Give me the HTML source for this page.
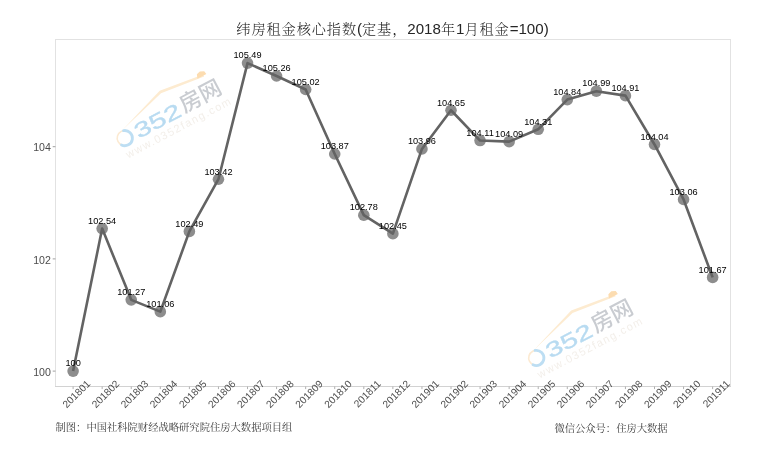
<!DOCTYPE html><html><head><meta charset="utf-8"><title>chart</title><style>
html,body{margin:0;padding:0;background:#fff}body{width:757px;height:449px;overflow:hidden}svg{display:block;will-change:transform}
text{font-family:"Liberation Sans","Noto Serif CJK SC",serif}
.c{font-size:14.2px;letter-spacing:0.9px}.ay{font-size:10.6px;fill:#4d4d4d}.ax{font-size:10.2px;fill:#4d4d4d}.lb{font-size:9.2px;fill:#000;text-anchor:middle}.ft{font-size:10.3px;fill:#3c3c3c}
</style></head><body>
<svg width="757" height="449" viewBox="0 0 757 449">
<rect width="757" height="449" fill="#fff"/>
<g transform="translate(124.5,137.6) rotate(-27.8)">
<path d="M1,-7.4 L53,-25 L99,-19.2 L99,-16.9 L53,-22.3 Z" fill="#fdebd0"/>
<path d="M92,-18.1 L93.5,-22.2 L97.5,-23.4 L101.5,-21.6 L102,-18 Z" fill="#fcdcb0"/>
<circle cx="0" cy="0.6" r="7.6" fill="none" stroke="#fcead2" stroke-width="1.6"/>
<path d="M-6.1,5.1 A7.6,7.6 0 1 0 2.4,-6.6" fill="none" stroke="#bddef3" stroke-width="2.8" stroke-linecap="round"/>
<text transform="translate(12,7.8) scale(1.43,1)" font-size="21" fill="#b8dbf1" stroke="#b8dbf1" stroke-width="0.35" style="font-family:'Liberation Sans',sans-serif">352</text>
<text x="64.5" y="6.3" font-size="22" font-weight="500" fill="#c9ccd1" style="font-family:'Liberation Sans','Noto Sans CJK SC',sans-serif">房网</text>
<text x="-6.5" y="20.3" font-size="11" fill="#f3efea" style="font-family:'Liberation Sans',sans-serif" textLength="117">www.0352fang.com</text>
</g>
<g transform="translate(536.0,357.4) rotate(-27.8)">
<path d="M1,-7.4 L53,-25 L99,-19.2 L99,-16.9 L53,-22.3 Z" fill="#fdebd0"/>
<path d="M92,-18.1 L93.5,-22.2 L97.5,-23.4 L101.5,-21.6 L102,-18 Z" fill="#fcdcb0"/>
<circle cx="0" cy="0.6" r="7.6" fill="none" stroke="#fcead2" stroke-width="1.6"/>
<path d="M-6.1,5.1 A7.6,7.6 0 1 0 2.4,-6.6" fill="none" stroke="#bddef3" stroke-width="2.8" stroke-linecap="round"/>
<text transform="translate(12,7.8) scale(1.43,1)" font-size="21" fill="#b8dbf1" stroke="#b8dbf1" stroke-width="0.35" style="font-family:'Liberation Sans',sans-serif">352</text>
<text x="64.5" y="6.3" font-size="22" font-weight="500" fill="#c9ccd1" style="font-family:'Liberation Sans','Noto Sans CJK SC',sans-serif">房网</text>
<text x="-6.5" y="20.3" font-size="11" fill="#f3efea" style="font-family:'Liberation Sans',sans-serif" textLength="117">www.0352fang.com</text>
</g>
<text x="236.3" y="34" font-size="15.1" fill="#262626" font-weight="300"><tspan class="c">纬房租金核心指数</tspan>(<tspan class="c">定基，</tspan>2018<tspan class="c">年</tspan>1<tspan class="c">月租金</tspan>=100)</text>
<rect x="55.5" y="39.5" width="675.0" height="347.0" fill="none" stroke="#e2e2e2" stroke-width="1"/>
<line x1="55.0" x2="731.0" y1="386.5" y2="386.5" stroke="#d2d2d2" stroke-width="1"/>
<line x1="52.7" x2="55.5" y1="371.10" y2="371.10" stroke="#a0a0a0" stroke-width="1"/>
<text class="ay" x="50.9" y="375.80" text-anchor="end">100</text>
<line x1="52.7" x2="55.5" y1="258.90" y2="258.90" stroke="#a0a0a0" stroke-width="1"/>
<text class="ay" x="50.9" y="263.60" text-anchor="end">102</text>
<line x1="52.7" x2="55.5" y1="146.70" y2="146.70" stroke="#a0a0a0" stroke-width="1"/>
<text class="ay" x="50.9" y="151.40" text-anchor="end">104</text>
<line x1="73.10" x2="73.10" y1="386.5" y2="389.1" stroke="#b0b0b0" stroke-width="1"/>
<text class="ax" text-anchor="end" transform="translate(90.90,384.40) rotate(-45)">201801</text>
<line x1="102.17" x2="102.17" y1="386.5" y2="389.1" stroke="#b0b0b0" stroke-width="1"/>
<text class="ax" text-anchor="end" transform="translate(119.97,384.40) rotate(-45)">201802</text>
<line x1="131.24" x2="131.24" y1="386.5" y2="389.1" stroke="#b0b0b0" stroke-width="1"/>
<text class="ax" text-anchor="end" transform="translate(149.04,384.40) rotate(-45)">201803</text>
<line x1="160.31" x2="160.31" y1="386.5" y2="389.1" stroke="#b0b0b0" stroke-width="1"/>
<text class="ax" text-anchor="end" transform="translate(178.11,384.40) rotate(-45)">201804</text>
<line x1="189.38" x2="189.38" y1="386.5" y2="389.1" stroke="#b0b0b0" stroke-width="1"/>
<text class="ax" text-anchor="end" transform="translate(207.18,384.40) rotate(-45)">201805</text>
<line x1="218.45" x2="218.45" y1="386.5" y2="389.1" stroke="#b0b0b0" stroke-width="1"/>
<text class="ax" text-anchor="end" transform="translate(236.25,384.40) rotate(-45)">201806</text>
<line x1="247.52" x2="247.52" y1="386.5" y2="389.1" stroke="#b0b0b0" stroke-width="1"/>
<text class="ax" text-anchor="end" transform="translate(265.32,384.40) rotate(-45)">201807</text>
<line x1="276.59" x2="276.59" y1="386.5" y2="389.1" stroke="#b0b0b0" stroke-width="1"/>
<text class="ax" text-anchor="end" transform="translate(294.39,384.40) rotate(-45)">201808</text>
<line x1="305.66" x2="305.66" y1="386.5" y2="389.1" stroke="#b0b0b0" stroke-width="1"/>
<text class="ax" text-anchor="end" transform="translate(323.46,384.40) rotate(-45)">201809</text>
<line x1="334.73" x2="334.73" y1="386.5" y2="389.1" stroke="#b0b0b0" stroke-width="1"/>
<text class="ax" text-anchor="end" transform="translate(352.53,384.40) rotate(-45)">201810</text>
<line x1="363.80" x2="363.80" y1="386.5" y2="389.1" stroke="#b0b0b0" stroke-width="1"/>
<text class="ax" text-anchor="end" transform="translate(381.60,384.40) rotate(-45)">201811</text>
<line x1="392.87" x2="392.87" y1="386.5" y2="389.1" stroke="#b0b0b0" stroke-width="1"/>
<text class="ax" text-anchor="end" transform="translate(410.67,384.40) rotate(-45)">201812</text>
<line x1="421.94" x2="421.94" y1="386.5" y2="389.1" stroke="#b0b0b0" stroke-width="1"/>
<text class="ax" text-anchor="end" transform="translate(439.74,384.40) rotate(-45)">201901</text>
<line x1="451.01" x2="451.01" y1="386.5" y2="389.1" stroke="#b0b0b0" stroke-width="1"/>
<text class="ax" text-anchor="end" transform="translate(468.81,384.40) rotate(-45)">201902</text>
<line x1="480.08" x2="480.08" y1="386.5" y2="389.1" stroke="#b0b0b0" stroke-width="1"/>
<text class="ax" text-anchor="end" transform="translate(497.88,384.40) rotate(-45)">201903</text>
<line x1="509.15" x2="509.15" y1="386.5" y2="389.1" stroke="#b0b0b0" stroke-width="1"/>
<text class="ax" text-anchor="end" transform="translate(526.95,384.40) rotate(-45)">201904</text>
<line x1="538.22" x2="538.22" y1="386.5" y2="389.1" stroke="#b0b0b0" stroke-width="1"/>
<text class="ax" text-anchor="end" transform="translate(556.02,384.40) rotate(-45)">201905</text>
<line x1="567.29" x2="567.29" y1="386.5" y2="389.1" stroke="#b0b0b0" stroke-width="1"/>
<text class="ax" text-anchor="end" transform="translate(585.09,384.40) rotate(-45)">201906</text>
<line x1="596.36" x2="596.36" y1="386.5" y2="389.1" stroke="#b0b0b0" stroke-width="1"/>
<text class="ax" text-anchor="end" transform="translate(614.16,384.40) rotate(-45)">201907</text>
<line x1="625.43" x2="625.43" y1="386.5" y2="389.1" stroke="#b0b0b0" stroke-width="1"/>
<text class="ax" text-anchor="end" transform="translate(643.23,384.40) rotate(-45)">201908</text>
<line x1="654.50" x2="654.50" y1="386.5" y2="389.1" stroke="#b0b0b0" stroke-width="1"/>
<text class="ax" text-anchor="end" transform="translate(672.30,384.40) rotate(-45)">201909</text>
<line x1="683.57" x2="683.57" y1="386.5" y2="389.1" stroke="#b0b0b0" stroke-width="1"/>
<text class="ax" text-anchor="end" transform="translate(701.37,384.40) rotate(-45)">201910</text>
<line x1="712.64" x2="712.64" y1="386.5" y2="389.1" stroke="#b0b0b0" stroke-width="1"/>
<text class="ax" text-anchor="end" transform="translate(730.44,384.40) rotate(-45)">201911</text>
<circle cx="73.10" cy="371.10" r="5.8" fill="#8d8d8d"/>
<circle cx="102.17" cy="228.61" r="5.8" fill="#8d8d8d"/>
<circle cx="131.24" cy="299.85" r="5.8" fill="#8d8d8d"/>
<circle cx="160.31" cy="311.63" r="5.8" fill="#8d8d8d"/>
<circle cx="189.38" cy="231.41" r="5.8" fill="#8d8d8d"/>
<circle cx="218.45" cy="179.24" r="5.8" fill="#8d8d8d"/>
<circle cx="247.52" cy="63.11" r="5.8" fill="#8d8d8d"/>
<circle cx="276.59" cy="76.01" r="5.8" fill="#8d8d8d"/>
<circle cx="305.66" cy="89.48" r="5.8" fill="#8d8d8d"/>
<circle cx="334.73" cy="153.99" r="5.8" fill="#8d8d8d"/>
<circle cx="363.80" cy="215.14" r="5.8" fill="#8d8d8d"/>
<circle cx="392.87" cy="233.65" r="5.8" fill="#8d8d8d"/>
<circle cx="421.94" cy="148.94" r="5.8" fill="#8d8d8d"/>
<circle cx="451.01" cy="110.23" r="5.8" fill="#8d8d8d"/>
<circle cx="480.08" cy="140.53" r="5.8" fill="#8d8d8d"/>
<circle cx="509.15" cy="141.65" r="5.8" fill="#8d8d8d"/>
<circle cx="538.22" cy="129.31" r="5.8" fill="#8d8d8d"/>
<circle cx="567.29" cy="99.58" r="5.8" fill="#8d8d8d"/>
<circle cx="596.36" cy="91.16" r="5.8" fill="#8d8d8d"/>
<circle cx="625.43" cy="95.65" r="5.8" fill="#8d8d8d"/>
<circle cx="654.50" cy="144.46" r="5.8" fill="#8d8d8d"/>
<circle cx="683.57" cy="199.43" r="5.8" fill="#8d8d8d"/>
<circle cx="712.64" cy="277.41" r="5.8" fill="#8d8d8d"/>
<polyline points="73.10,371.10 102.17,228.61 131.24,299.85 160.31,311.63 189.38,231.41 218.45,179.24 247.52,63.11 276.59,76.01 305.66,89.48 334.73,153.99 363.80,215.14 392.87,233.65 421.94,148.94 451.01,110.23 480.08,140.53 509.15,141.65 538.22,129.31 567.29,99.58 596.36,91.16 625.43,95.65 654.50,144.46 683.57,199.43 712.64,277.41" fill="none" stroke="#636363" stroke-width="2.6" stroke-linejoin="round" stroke-linecap="butt"/>
<text class="lb" x="73.10" y="366.40">100</text>
<text class="lb" x="102.17" y="223.91">102.54</text>
<text class="lb" x="131.24" y="295.15">101.27</text>
<text class="lb" x="160.31" y="306.93">101.06</text>
<text class="lb" x="189.38" y="226.71">102.49</text>
<text class="lb" x="218.45" y="174.54">103.42</text>
<text class="lb" x="247.52" y="58.41">105.49</text>
<text class="lb" x="276.59" y="71.31">105.26</text>
<text class="lb" x="305.66" y="84.78">105.02</text>
<text class="lb" x="334.73" y="149.29">103.87</text>
<text class="lb" x="363.80" y="210.44">102.78</text>
<text class="lb" x="392.87" y="228.95">102.45</text>
<text class="lb" x="421.94" y="144.24">103.96</text>
<text class="lb" x="451.01" y="105.53">104.65</text>
<text class="lb" x="480.08" y="135.83">104.11</text>
<text class="lb" x="509.15" y="136.95">104.09</text>
<text class="lb" x="538.22" y="124.61">104.31</text>
<text class="lb" x="567.29" y="94.88">104.84</text>
<text class="lb" x="596.36" y="86.46">104.99</text>
<text class="lb" x="625.43" y="90.95">104.91</text>
<text class="lb" x="654.50" y="139.76">104.04</text>
<text class="lb" x="683.57" y="194.73">103.06</text>
<text class="lb" x="712.64" y="272.71">101.67</text>
<text class="ft" x="55.5" y="431.3">制图：中国社科院财经战略研究院住房大数据项目组</text>
<text class="ft" x="554.4" y="432.3">微信公众号：住房大数据</text>
</svg></body></html>
